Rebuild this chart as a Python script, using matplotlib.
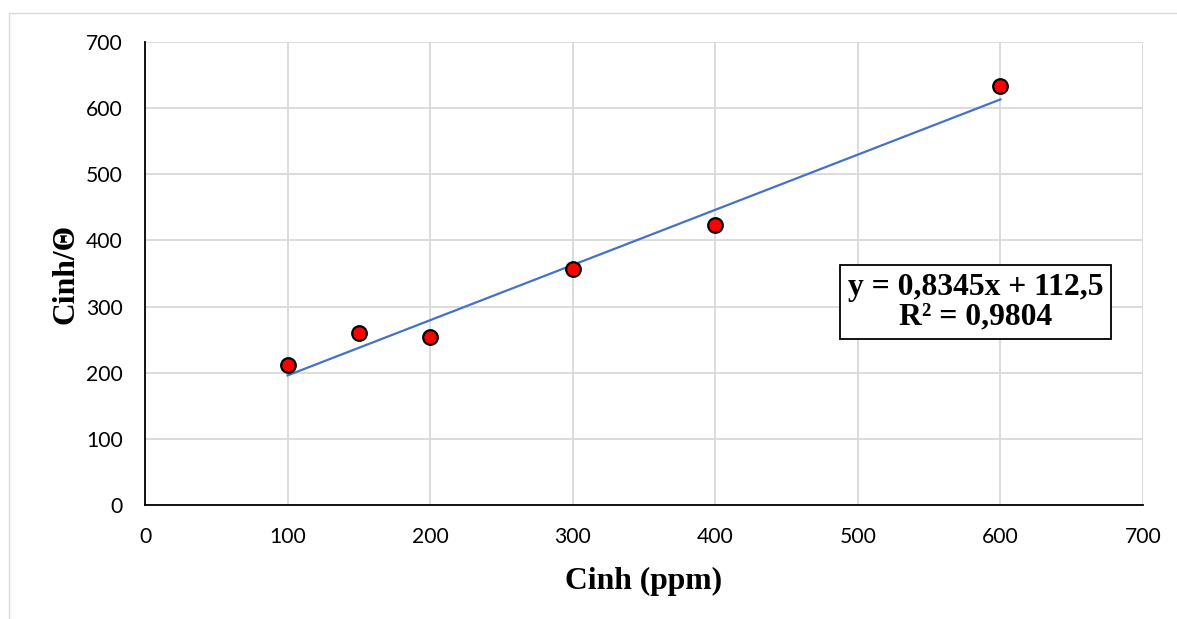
import matplotlib
matplotlib.use("Agg")
import matplotlib.pyplot as plt
from matplotlib.patches import Rectangle
import numpy as np

cinh = [100, 150, 200, 300, 400, 600]
cinh_theta = [211, 260, 254, 357, 423, 634]
slope = 0.8345
intercept = 112.5
r2 = 0.9804
ticks = [0, 100, 200, 300, 400, 500, 600, 700]

W, H = 1177, 619
fig = plt.figure(figsize=(W / 100, H / 100), dpi=100)
fig.patch.set_facecolor("white")

# outer chart frame
fig.patches.append(Rectangle((9 / W, -0.1), 1.2, (H - 13) / H + 0.1,
                             transform=fig.transFigure, fill=False,
                             edgecolor="#D9D9D9", linewidth=1.0))

ax = fig.add_axes([145 / W, (H - 505) / H, (1143 - 145) / W, (505 - 42) / H])
ax.set_xlim(0, 700)
ax.set_ylim(0, 700)
ax.set_xticks(ticks)
ax.set_yticks(ticks)
ax.grid(True, color="#D9D9D9", linewidth=1.3)
ax.set_axisbelow(True)
for s in ["top", "right"]:
    ax.spines[s].set_visible(False)
for s in ["left", "bottom"]:
    ax.spines[s].set_color("black")
    ax.spines[s].set_linewidth(1.3)
ax.tick_params(length=0, labelsize=15.2)
ax.tick_params(axis="x", pad=16)
ax.tick_params(axis="y", pad=16)
for lab in ax.get_xticklabels() + ax.get_yticklabels():
    lab.set_fontfamily("Lato")

xs = np.array([min(cinh), max(cinh)])
ax.plot(xs, slope * xs + intercept, color="#4472C4", linewidth=1.6, zorder=2)
ax.plot(cinh, cinh_theta, linestyle="none", marker="o", markersize=10.5,
        markerfacecolor="#FF0000", markeredgecolor="black",
        markeredgewidth=1.6, zorder=3)

ax.set_xlabel("Cinh (ppm)", fontsize=22.8, fontweight="bold",
              fontfamily="Liberation Serif", labelpad=14)
ax.set_ylabel("Cinh/Θ", fontsize=22.8, fontweight="bold",
              fontfamily="Liberation Serif", labelpad=4)

eq = f"y = {slope:.4f}x + {intercept:.1f}".replace(".", ",")
rr = f"R² = {r2:.4f}".replace(".", ",")
ax.text(975.5 / W, (H - 302) / H, eq + "\n" + rr, transform=fig.transFigure,
        ha="center", va="center", fontsize=22.8, fontweight="bold",
        fontfamily="Liberation Serif", linespacing=1.0,
        bbox=dict(boxstyle="square,pad=0.24", facecolor="white",
                  edgecolor="black", linewidth=1.3))

fig.savefig("out.png", dpi=100)
